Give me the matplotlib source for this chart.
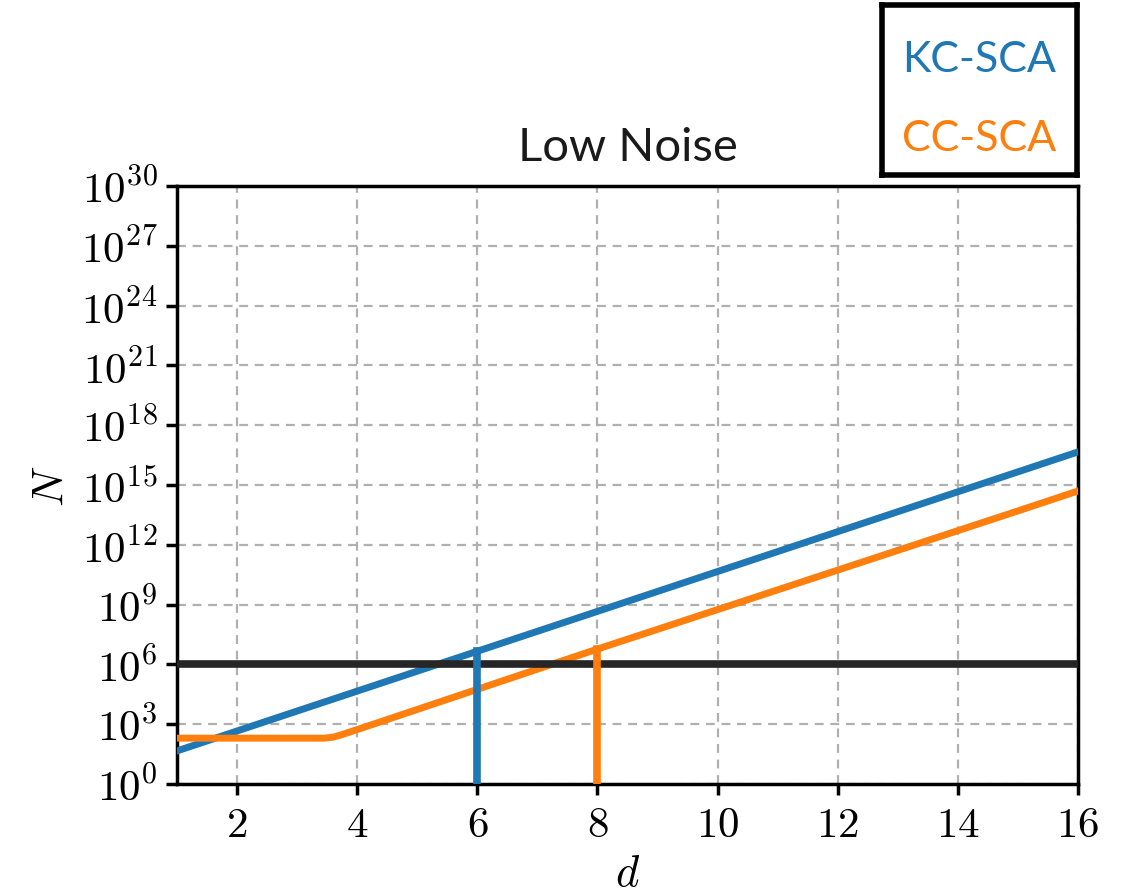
import matplotlib
matplotlib.use('Agg')
import matplotlib.pyplot as plt
import numpy as np

plt.rcParams['mathtext.fontset'] = 'cm'
plt.rcParams['font.family'] = 'serif'
plt.rcParams['font.serif'] = ['DejaVu Serif']

# values (log10 of N)
d = [1, 2, 3, 4, 5, 6, 7, 8, 9, 10, 11, 12, 13, 14, 15, 16]
kc_log = [1.66, 2.66, 3.66, 4.66, 5.66, 6.66, 7.66, 8.66, 9.66, 10.66,
          11.66, 12.66, 13.66, 14.66, 15.66, 16.66]
cc_d = [1, 2, 3, 3.45, 3.6, 3.75, 4, 5, 6, 7, 8, 9, 10, 11, 12, 13, 14, 15, 16]
cc_log = [2.3, 2.3, 2.3, 2.3, 2.35, 2.48, 2.73, 3.74, 4.75, 5.76, 6.77, 7.76,
          8.75, 9.74, 10.73, 11.72, 12.71, 13.7, 14.7]
threshold = 1.1e6
kc_cut = 6
cc_cut = 8

blue = '#1f77b4'
orange = '#ff7f0e'

fig = plt.figure(figsize=(11.3, 8.95), dpi=100)
ax = fig.add_axes([177/1130, 1-785/895, (1078-177)/1130, (785-187)/895])

ax.plot(d, 10**np.array(kc_log), color=blue, lw=5, zorder=3)
ax.plot(cc_d, 10**np.array(cc_log), color=orange, lw=5, zorder=3)
ax.axhline(threshold, color='#262626', lw=5.5, zorder=4)
ax.plot([kc_cut, kc_cut], [1, 10**kc_log[d.index(kc_cut)]], color=blue, lw=5.5, zorder=5)
ax.plot([cc_cut, cc_cut], [1, 10**cc_log[cc_d.index(cc_cut)]], color=orange, lw=5.5, zorder=5)

ax.set_yscale('log')
ax.set_xlim(1, 16)
ax.set_ylim(1, 1e30)
ax.set_xticks(range(2, 17, 2))
ax.set_xticklabels(['$%d$' % v for v in range(2, 17, 2)])
yt = [10.0**k for k in range(0, 31, 3)]
ax.set_yticks(yt)
ax.set_yticklabels(['$10^{%d}$' % k for k in range(0, 31, 3)])
ax.yaxis.set_minor_locator(matplotlib.ticker.NullLocator())
ax.tick_params(labelsize=31, width=2.5, length=8, direction='out', pad=6)
ax.grid(True, color='#b0b0b0', linestyle=(0, (4, 3)), lw=1.6)
for s in ax.spines.values():
    s.set_linewidth(2.5)
ax.set_xlabel('$d$', fontsize=32, labelpad=4)
ax.set_ylabel('$N$', fontsize=32, labelpad=6)

fig.text(628/1130, 1-148/895, 'Low Noise', family='Lato', fontsize=34,
         ha='center', va='center', color='#1a1a1a')

lax = fig.add_axes([882/1130, 1-176/895, (1077-882)/1130, (176-6)/895])
lax.set_xticks([])
lax.set_yticks([])
for s in lax.spines.values():
    s.set_linewidth(4)
lax.text(0.5, 0.68, 'KC-SCA', color=blue, family='Lato', fontsize=31,
         ha='center', va='center', transform=lax.transAxes)
lax.text(0.5, 0.215, 'CC-SCA', color=orange, family='Lato', fontsize=31,
         ha='center', va='center', transform=lax.transAxes)

fig.savefig('out.png', dpi=100)
